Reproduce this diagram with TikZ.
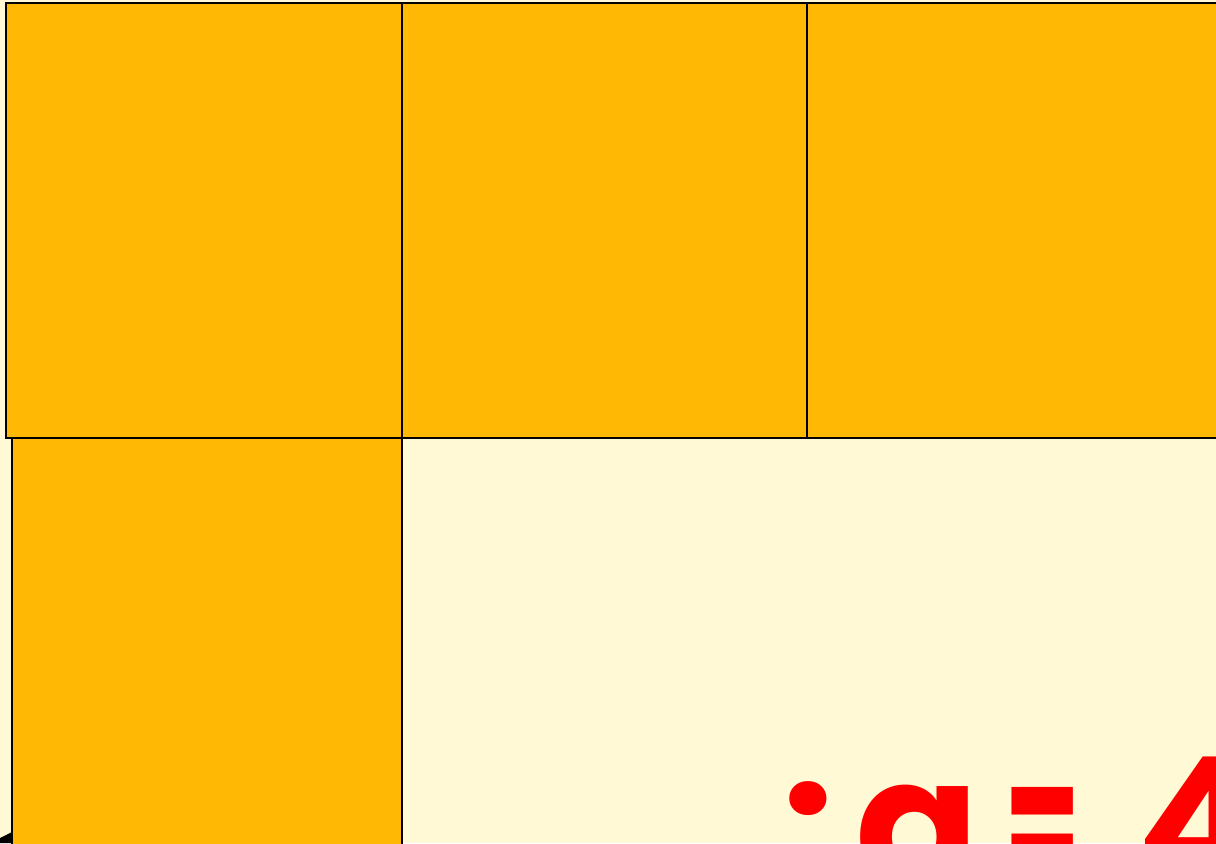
\documentclass[tikz,border=0pt]{standalone}
\usepackage{fontspec}
\newfontfamily\slidefont{Poppins}
\definecolor{cream}{HTML}{FFF9D6}
\definecolor{tileorange}{HTML}{FFB904}
\tikzset{tile/.style={fill=tileorange, draw=black, line width=0.6pt}}

\begin{document}
\begin{tikzpicture}[x=1cm,y=1cm]
  \useasboundingbox (0,0) rectangle (12.16,8.43);
  \clip (0,0) rectangle (12.16,8.43);
  \fill[cream] (0,0) rectangle (12.16,8.43);
  % top row of unit squares
  \foreach \a/\b in {0.06/4.02, 4.02/8.07, 8.07/12.4} { \filldraw[tile] (\a,4.05) rectangle (\b,8.40); }
  % square below the first one
  \filldraw[tile] (0.12,-0.2) rectangle (4.02,4.05);
  \fill (0,0.05) -- (0.12,0.11) -- (0.12,0) -- (0,0) -- cycle;
  \node[anchor=base west, inner sep=0pt, text=red, font=\slidefont\bfseries\fontsize{52}{60}\selectfont] (area) at (7.82,-0.45) {:\kern6pt a\kern7pt\scalebox{0.6}[1]{=}\kern16pt 4};
\end{tikzpicture}
\end{document}
